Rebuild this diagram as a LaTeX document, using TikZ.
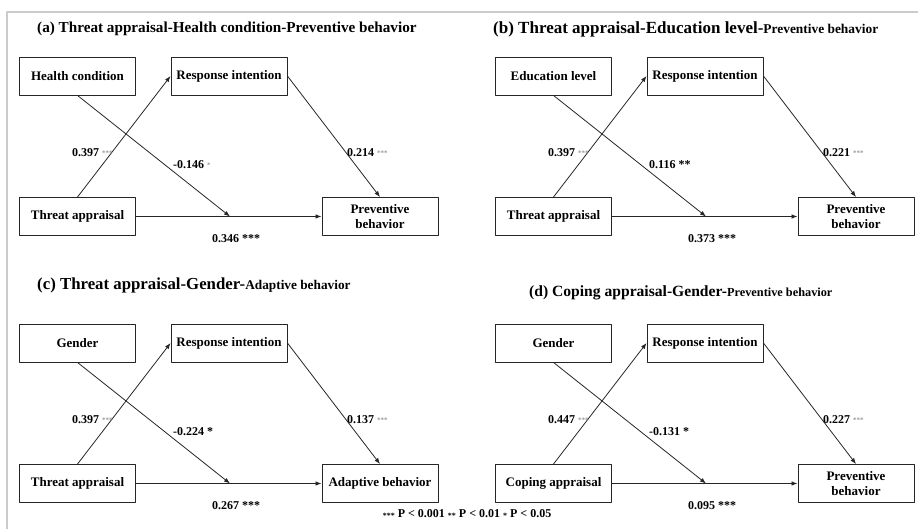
\documentclass[tikz,border=0pt]{standalone}
\usepackage{fontspec}
\setmainfont{Liberation Serif}
\usetikzlibrary{arrows.meta, positioning, calc}

\begin{document}
\begin{tikzpicture}[x=1pt, y=-1pt, >={Latex[length=6pt,width=4.5pt]}, line cap=round, line join=round]
	\tikzset{
		box/.style={draw=black!85, line width=0.9pt, minimum width=116pt, minimum height=38pt, align=center, inner sep=2pt, font=\fontsize{13}{15}\selectfont\bfseries},
		link/.style={->, line width=0.8pt, black!85},
		coef/.style={anchor=west, inner sep=0pt, font=\fontsize{12}{14}\selectfont\bfseries},
		ttl/.style={anchor=west, inner sep=0pt, font=\fontsize{#1}{19}\selectfont\bfseries},
		edgeframe/.style={draw=gray!40, line width=1.5pt}
	}
	
	\newcommand{\gst}[1]{\textcolor{gray!80}{\raisebox{1pt}{\fontsize{7}{7}\selectfont #1}}}
	\newcommand{\lst}[1]{\raisebox{-1.5pt}{\fontsize{8}{8}\selectfont #1}}
	\newcommand{\sub}[2]{{\fontsize{#1}{15}\selectfont #2}}
	
	\newcommand{\modpanel}[9]{
		\begin{scope}[shift={#1}]
			\node[box] (#2mod) at (77.5,76) {#3};
			\node[box] (#2ri) at (229,76) {Response intention};
			\node[box] (#2x) at (77.5,216.5) {#4};
			\node[box] (#2y) at (380,216.5) {#5};
			\coordinate (#2mid) at (230,216.5);
			
			\draw[link] (#2x.north) -- (#2ri.west);
			\draw[link] (#2mod.south) -- (#2mid);
			\draw[link] (#2x.east) -- (#2y.west);
			\draw[link] (#2ri.east) -- (#2y.north);
			
			\node[coef] (#2ca) at (72,153) {#6};
			\node[coef] (#2cm) at (173,165) {#7};
			\node[coef] (#2cb) at (347,153) {#8};
			\node[coef] (#2cc) at (212,239) {#9};
		\end{scope}
	}
	
	\useasboundingbox (0,0) rectangle (918,529);
	\draw[edgeframe] (7,529) -- (7,12) -- (918,12);
	
	% (a)
	\node[ttl=15.2] (ta) at (37,29) {(a) Threat appraisal-Health condition-Preventive behavior};
	\modpanel{(0,0)}{a}{Health condition}{Threat appraisal}{Preventive\\behavior}
		{0.397 \gst{***}}{-0.146 \gst{*}}{0.214 \gst{***}}{0.346 ***}
	
	% (b)
	\node[ttl=17] (tb) at (493,29) {(b) Threat appraisal-Education level-\sub{13.4}{Preventive behavior}};
	\modpanel{(476,0)}{b}{Education level}{Threat appraisal}{Preventive\\behavior}
		{0.397 \gst{***}}{0.116 **}{0.221 \gst{***}}{0.373 ***}
	
	% (c)
	\node[ttl=16.8] (tc) at (37,285) {(c) Threat appraisal-Gender-\sub{13.3}{Adaptive behavior}};
	\modpanel{(0,267)}{c}{Gender}{Threat appraisal}{Adaptive behavior}
		{0.397 \gst{***}}{-0.224 *}{0.137 \gst{***}}{0.267 ***}
	
	% (d)
	\node[ttl=15.6] (td) at (529,293) {(d) Coping appraisal-Gender-\sub{12.3}{Preventive behavior}};
	\modpanel{(476,267)}{d}{Gender}{Coping appraisal}{Preventive\\behavior}
		{0.447 \gst{***}}{-0.131 *}{0.227 \gst{***}}{0.095 ***}
	
	\node[coef, anchor=center] (note) at (467,514) {\lst{***} P < 0.001 \lst{**} P < 0.01 \lst{*} P < 0.05};
\end{tikzpicture}
\end{document}
